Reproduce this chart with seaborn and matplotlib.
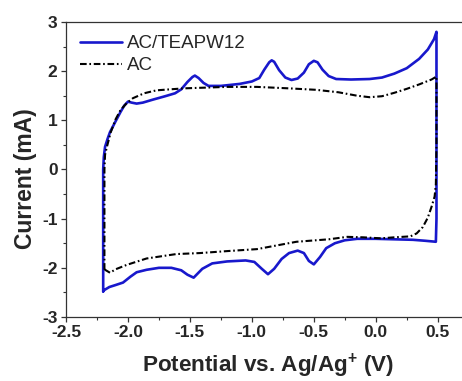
import matplotlib
matplotlib.use("Agg")
import matplotlib.pyplot as plt
import seaborn as sns
import pandas as pd
from matplotlib.ticker import MultipleLocator

# Cyclic voltammograms: potential (V vs. Ag/Ag+) and current (mA), one closed loop each
teapw_v = [-2.20, -2.20, -2.20, -2.195, -2.185, -2.165, -2.145, -2.10, -2.06, -2.03,
           -2.00, -1.97, -1.93, -1.88, -1.80, -1.70, -1.62, -1.57, -1.52, -1.48,
           -1.46, -1.43, -1.39, -1.35, -1.25, -1.10, -1.00, -0.94, -0.90, -0.86,
           -0.84, -0.82, -0.78, -0.73, -0.68, -0.63, -0.58, -0.54, -0.50, -0.47,
           -0.43, -0.38, -0.32, -0.20, -0.05, 0.05, 0.15, 0.25, 0.35, 0.42,
           0.47, 0.49, 0.49, 0.49, 0.485, 0.40, 0.30, 0.15, 0.00, -0.15,
           -0.25, -0.33, -0.40, -0.45, -0.50, -0.54, -0.58, -0.63, -0.70, -0.76,
           -0.82, -0.87, -0.92, -0.98, -1.05, -1.20, -1.32, -1.40, -1.47, -1.52,
           -1.57, -1.65, -1.75, -1.85, -1.93, -1.98, -2.04, -2.10, -2.15, -2.19,
           -2.20]
teapw_i = [-2.48, -1.00, 0.00, 0.25, 0.46, 0.62, 0.76, 0.98, 1.17, 1.30,
           1.38, 1.36, 1.34, 1.36, 1.42, 1.49, 1.55, 1.63, 1.78, 1.88,
           1.91, 1.86, 1.76, 1.70, 1.70, 1.74, 1.79, 1.86, 2.03, 2.18,
           2.22, 2.19, 2.02, 1.87, 1.82, 1.85, 1.97, 2.14, 2.21, 2.18,
           2.03, 1.90, 1.84, 1.83, 1.84, 1.87, 1.95, 2.06, 2.25, 2.44,
           2.65, 2.80, 1.00, -1.00, -1.47, -1.45, -1.43, -1.42, -1.41, -1.41,
           -1.44, -1.50, -1.60, -1.78, -1.93, -1.86, -1.70, -1.65, -1.70, -1.82,
           -2.02, -2.13, -2.02, -1.88, -1.85, -1.87, -1.91, -2.02, -2.20, -2.14,
           -2.05, -2.00, -2.00, -2.04, -2.09, -2.18, -2.30, -2.35, -2.39, -2.45,
           -2.48]

ac_v = [-2.19, -2.19, -2.185, -2.17, -2.14, -2.10, -2.06, -2.01, -1.96, -1.87,
        -1.77, -1.55, -1.20, -0.96, -0.70, -0.48, -0.30, -0.15, -0.05, 0.05,
        0.15, 0.25, 0.35, 0.45, 0.49, 0.49, 0.485, 0.475, 0.45, 0.42,
        0.38, 0.33, 0.28, 0.15, 0.04, -0.10, -0.23, -0.38, -0.64, -0.96,
        -1.20, -1.42, -1.61, -1.85, -2.01, -2.10, -2.145, -2.185, -2.19]
ac_i = [-2.04, 0.00, 0.30, 0.46, 0.75, 1.02, 1.21, 1.35, 1.45, 1.55,
        1.61, 1.65, 1.68, 1.68, 1.65, 1.62, 1.57, 1.50, 1.47, 1.49,
        1.56, 1.64, 1.73, 1.83, 1.89, 0.50, -0.30, -0.55, -0.76, -0.98,
        -1.17, -1.30, -1.36, -1.38, -1.40, -1.38, -1.37, -1.42, -1.47, -1.62,
        -1.66, -1.70, -1.72, -1.81, -1.94, -2.03, -2.10, -2.04, -2.04]

series_names = ["AC/TEAPW12", "AC"]

sns.set_style("ticks")
plt.rcParams["font.family"] = ["Liberation Sans", "DejaVu Sans"]
plt.rcParams["mathtext.fontset"] = "custom"
plt.rcParams["mathtext.bf"] = "Liberation Sans:bold"
plt.rcParams["mathtext.rm"] = "Liberation Sans"

fig = plt.figure(figsize=(4.62, 3.81), dpi=100)
ax = fig.add_axes([0.1429, 0.168, 0.885, 0.7743])

df_teapw = pd.DataFrame({"V": teapw_v, "I": teapw_i})
df_ac = pd.DataFrame({"V": ac_v, "I": ac_i})

sns.lineplot(data=df_teapw, x="V", y="I", sort=False, estimator=None,
             color="#1818cc", linewidth=1.9, ax=ax, label=series_names[0])
sns.lineplot(data=df_ac, x="V", y="I", sort=False, estimator=None,
             color="black", linewidth=1.5, ax=ax, label=series_names[1],
             linestyle=(0, (3.2, 1.3, 0.8, 1.3)))

ax.set_xlim(-2.5, 0.8)
ax.set_ylim(-3, 3)
ax.xaxis.set_major_locator(MultipleLocator(0.5))
ax.xaxis.set_minor_locator(MultipleLocator(0.25))
ax.yaxis.set_major_locator(MultipleLocator(1))
ax.yaxis.set_minor_locator(MultipleLocator(0.5))
ax.set_xticks([-2.5, -2.0, -1.5, -1.0, -0.5, 0.0, 0.5])
ax.set_xticklabels(["-2.5", "-2.0", "-1.5", "-1.0", "-0.5", "0.0", "0.5"])
ax.set_yticks([-3, -2, -1, 0, 1, 2, 3])
ax.set_yticklabels(["-3", "-2", "-1", "0", "1", "2", "3"])

for sp in ax.spines.values():
    sp.set_color("#333333")
    sp.set_linewidth(0.9)
ax.tick_params(which="major", direction="out", length=3.6, width=0.9,
               color="#333333", labelsize=12.5, pad=2.5,
               top=False, right=False)
ax.tick_params(which="minor", direction="out", length=2.2, width=0.8,
               color="#333333", top=False, right=False)
for lab in ax.get_xticklabels() + ax.get_yticklabels():
    lab.set_fontweight("bold")

ax.set_xlabel(r"Potential vs. Ag/Ag$^{\mathbf{+}}$ (V)", fontsize=16.2,
              fontweight="bold")
ax.set_ylabel("Current (mA)", fontsize=16.5, fontweight="bold")
ax.xaxis.set_label_coords(0.494, -0.118)
ax.yaxis.set_label_coords(-0.072, 0.47)

ax.legend(loc="upper left", bbox_to_anchor=(0.035, 0.955), frameon=False,
          fontsize=13.5, handlelength=2.2, handletextpad=0.3, borderpad=0,
          borderaxespad=0, labelspacing=0.25)

fig.savefig("out.png", dpi=100)
